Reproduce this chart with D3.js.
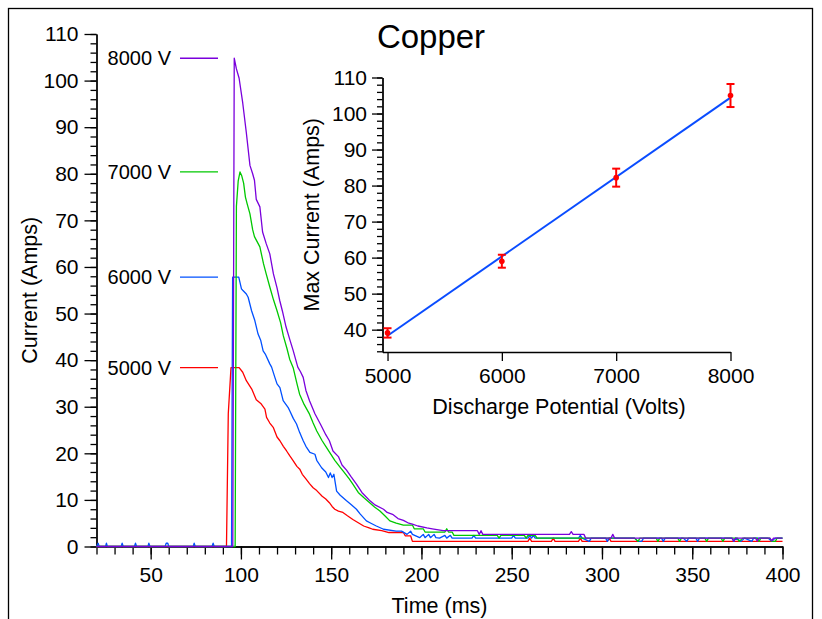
<!DOCTYPE html>
<html>
<head>
<meta charset="utf-8">
<script src="https://cdn.jsdelivr.net/npm/d3@7"></script>
<style>
  body { margin: 0; background: #fff; }
  svg text { font-family: "Liberation Sans", Arial, Helvetica, sans-serif; }
</style>
</head>
<body>
<div id="chart" style="width:822px;height:619px"></div>
<script>
// Discharge current traces for copper, plus inset of peak current vs voltage

const seriesNames = ['5000 V', '6000 V', '7000 V', '8000 V'];
const seriesColors = ['#ff0000', '#0050ff', '#00c800', '#7a00dc'];

// [time (ms), current (A)]
const trace5000 = [[20,0],[92,0],[93,28.5],[94.5,38.4],[99,38.4],[101,37.4],[103,35.6],[106,33.8],[108.5,31.5],[111,30.7],[113.3,29.5],[114.2,27.7],[116,26.5],[118,25.5],[120,23.5],[121.6,22.7],[123.5,21.5],[125.3,20.5],[127,19.5],[129,18.4],[131,17.2],[132.6,16.6],[134,15.5],[136,14.5],[138,13.5],[140,12.6],[142,12],[145,10.8],[147,10.2],[149,9.4],[150.5,8.6],[152,8],[154,7.6],[156.5,7.3],[159,6.6],[162,5.8],[165,5.1],[168,4.4],[171,4],[173,3.7],[178,3.4],[182,3],[190,3],[191,2.3],[194,2.3],[195,1.1],[259,1.1],[260,1.8],[261,1.1],[272,1.1],[273,1.8],[274,1.1],[287,1.1],[288,1.8],[289,1.1],[303,1.1],[304,1.8],[305,1.1],[400,1.1]];

const trace6000 = [[20,0],[20.9,0.7],[21.5,0],[25,0],[25.5,0.7],[26,0],[33.7,0],[34.2,0.7],[34.8,0],[41,0],[41.6,0.7],[42.2,0],[48.5,0],[49,0.7],[49.6,0],[58,0],[58.6,0.7],[59.5,0.7],[60,0],[73.6,0],[74.1,0.7],[74.7,0],[84,0],[84.6,0.7],[85.2,0],[94.8,0],[95.4,57.8],[98.8,57.8],[100.3,55.3],[101,55],[103,54.2],[104,53.5],[105.9,50.6],[107.7,48.5],[109.5,45.6],[111,44.2],[112.3,42],[113.5,41.3],[116,39.2],[117,38.5],[118.8,36.3],[120,34.9],[121.6,34.1],[123.4,31.3],[126.2,29.8],[127.1,29.1],[129,27.5],[130.8,26.3],[132.5,24.5],[134.5,22.7],[136,21.5],[138.2,20.2],[141,19.8],[142,18.5],[144.7,16.9],[147,16],[148.5,14.8],[149.5,15.8],[150.5,14.8],[151.5,15.5],[153,11.9],[155,11],[158.5,9.8],[161,9],[164,8],[166,7],[169.5,5.5],[172,5],[175,4.4],[179,3.7],[186,3.3],[189,3.3],[192,2.6],[194,3.3],[195,2.6],[199,1.9],[201,2.6],[202,1.9],[204,2.6],[205,1.9],[207,2.6],[208,1.9],[210,1.8],[213,2.4],[214,1.8],[216,2.4],[217,1.8],[228,1.8],[229,2.4],[230,1.8],[250,1.8],[251,2.4],[252,1.8],[259,1.8],[260,2.4],[261,1.8],[262,2.4],[263,1.8],[287,1.8],[288,2.4],[289,1.8],[293,1.1],[294,1.8],[302,1.8],[303,1.1],[304,1.8],[318,1.8],[320,1.1],[322,1.1],[323,1.8],[333,1.8],[334,1.1],[335,1.8],[345,1.8],[347,1.1],[348,1.8],[352,1.8],[353,1.1],[354,1.8],[372,1.8],[373,1.1],[374,1.8],[377,1.1],[379,1.8],[383,1.1],[384,1.8],[392,1.8],[394,1.1],[396,1.8],[400,1.8]];

const trace7000 = [[20,0],[96.8,0],[97.5,73],[98.5,78.5],[99.5,80.4],[100.5,79.5],[101.5,78],[102.5,75],[103.5,73.5],[105,71.4],[106.5,68],[107.5,66.5],[110.5,64.3],[112.5,60.7],[114,58.5],[116,55.7],[118,53],[120,50.6],[122,48],[123.5,45.2],[125.5,42.5],[127,40.2],[129,38.3],[131,35],[132.5,32.7],[135,30.5],[138,28.4],[140,26.5],[142,24.8],[145,22.7],[147,21.5],[149.5,20],[152,18.5],[155,17],[157,16],[160,14.5],[162,13.4],[165,11.6],[168,10.5],[171,9.5],[174,8.5],[177,7.6],[180,6.5],[182.5,5.5],[186,5],[190,4.6],[195,4.6],[196,3.8],[201,3.8],[202,3.1],[213,3.1],[214,3.8],[215,3.1],[217,3.1],[218,2.4],[242,2.4],[243,1.8],[244,2.4],[257,2.4],[258,1.8],[259,2.4],[263,2.4],[264,1.8],[318,1.8],[320,1.1],[321,1.8],[330,1.8],[331,1.1],[332,1.8],[342,1.8],[343,1.1],[344,1.8],[357,1.8],[358,1.1],[359,1.8],[366,1.8],[367,1.1],[368,1.8],[375,1.8],[376,1.1],[378,1.8],[386,1.8],[387,1.1],[388,1.8],[393,1.8],[394,1.1],[396,1.1],[397,1.8],[400,1.8]];

const trace8000 = [[20,0],[95.5,0],[96.3,104.8],[97.5,102.5],[99,100.5],[101,95.2],[103,88.8],[105,81.8],[106.5,80],[107.5,78.6],[108.5,74.5],[110.5,72.9],[112,67.5],[114,65],[116,62.8],[118,58.5],[120,55.5],[121.5,52.8],[123,50.5],[125,47.1],[127,44.5],[129,42],[131.5,38.5],[133,37.5],[134.5,36.3],[136,33.5],[138,31.3],[141,28.5],[144,26.3],[147,24],[149,22.7],[151,20.5],[154,19.3],[156,17.5],[158.5,16.4],[161,15],[164,13.4],[167,11.6],[169,10.8],[171.5,9.8],[174,9],[179,8],[181,7.3],[184,6.9],[187,6],[190,5.6],[193,5],[195,4.8],[198,4.4],[203,4],[206,3.8],[212,3.4],[231,3.4],[232,2.6],[233,3.4],[234,2.6],[282,2.6],[283,3.2],[284,2.6],[290,2.6],[291,1.8],[305,1.8],[306,2.6],[307,1.8],[372,1.8],[373,1.2],[374,1.8],[385,1.8],[386,1.2],[387,1.8],[393,1.8],[394,1.2],[395,1.8],[400,1.8]];

const traces = [trace5000, trace6000, trace7000, trace8000];

// inset: peak current vs discharge potential
const voltages = [5000, 6000, 7000, 8000];
const maxCurrent = [39.1, 59.0, 82.2, 105.0];
const maxCurrentErr = [1.3, 1.8, 2.5, 3.2];
const fitLine = [[5000, 38.3], [8000, 104.4]];

// tick values
const mainXTicks = [50, 100, 150, 200, 250, 300, 350, 400];
const mainYTicks = [0, 10, 20, 30, 40, 50, 60, 70, 80, 90, 100, 110];
const insetXTicks = [5000, 6000, 7000, 8000];
const insetYTicks = [40, 50, 60, 70, 80, 90, 100, 110];

renderChart(document.getElementById('chart'));

function styleAxis(g, fontSize){
  g.attr('font-size', fontSize).attr('font-family', '"Liberation Sans", Arial, sans-serif');
  g.select('.domain').attr('stroke', '#000').attr('stroke-width', 1.3);
  g.selectAll('.tick line').attr('stroke', '#000').attr('stroke-width', 1.3);
  g.selectAll('.tick text').attr('fill', '#000');
}

function renderChart(dom){
  const w = 822;
  const h = 619;
  const plot = d3.select(dom).append('svg')
    .attr('width', w)
    .attr('height', h);

  //Outer frame
  plot.append('rect')
    .attr('x', 8.5).attr('y', 8.5)
    .attr('width', 804).attr('height', 700)
    .style('fill', 'none')
    .style('stroke', '#000')
    .style('stroke-width', 1.3);

  //Main scales
  const x = d3.scaleLinear().domain([20, 400]).range([96.5, 782.5]);
  const y = d3.scaleLinear().domain([0, 110]).range([546.5, 34]);

  //Minor ticks first, then labelled major ticks
  plot.append('g')
    .attr('transform', `translate(0,${y(0)})`)
    .call(d3.axisBottom(x).tickValues(d3.range(20, 401, 10)).tickSize(8).tickSizeOuter(0).tickFormat(''))
    .call(g => styleAxis(g, 21));
  plot.append('g')
    .attr('transform', `translate(0,${y(0)})`)
    .call(d3.axisBottom(x).tickValues(mainXTicks).tickSize(13).tickSizeOuter(0).tickPadding(8))
    .call(g => styleAxis(g, 21));

  plot.append('g')
    .attr('transform', `translate(${x(20)},0)`)
    .call(d3.axisLeft(y).tickValues(d3.range(0, 111, 2)).tickSize(6).tickSizeOuter(0).tickFormat(''))
    .call(g => styleAxis(g, 21));
  plot.append('g')
    .attr('transform', `translate(${x(20)},0)`)
    .call(d3.axisLeft(y).tickValues(mainYTicks).tickSize(12).tickSizeOuter(0).tickPadding(6))
    .call(g => styleAxis(g, 21));

  //Axis titles
  plot.append('text')
    .attr('x', (x(20) + x(400)) / 2)
    .attr('y', 613)
    .attr('text-anchor', 'middle')
    .style('font-size', '21.5px')
    .text('Time (ms)');
  plot.append('text')
    .attr('transform', `translate(37,${(y(0) + y(110)) / 2}) rotate(-90)`)
    .attr('text-anchor', 'middle')
    .style('font-size', '21.5px')
    .text('Current (Amps)');

  //Title
  plot.append('text')
    .attr('x', 431)
    .attr('y', 48)
    .attr('text-anchor', 'middle')
    .style('font-size', '33px')
    .text('Copper');

  //Traces
  const line = d3.line()
    .x(d => x(d[0]))
    .y(d => y(d[1]));

  plot.selectAll('.trace')
    .data(traces)
    .enter()
    .append('path')
    .attr('class', 'trace')
    .attr('d', line)
    .style('fill', 'none')
    .style('stroke', (d, i) => seriesColors[i])
    .style('stroke-width', 1.3)
    .style('stroke-linejoin', 'round');

  //Legend: each label sits at the height of its peak
  const legend = plot.selectAll('.legend')
    .data(traces)
    .enter()
    .append('g')
    .attr('class', 'legend')
    .attr('transform', d => `translate(0,${y(d3.max(d, p => p[1]))})`);

  legend.append('line')
    .attr('x1', 180).attr('x2', 218)
    .attr('y1', 0).attr('y2', 0)
    .style('stroke', (d, i) => seriesColors[i])
    .style('stroke-width', 1.3);

  legend.append('text')
    .attr('x', 171)
    .attr('y', 7)
    .attr('text-anchor', 'end')
    .style('font-size', '20px')
    .text((d, i) => seriesNames[i]);

  renderInset(plot);
}

function renderInset(plot){
  const ix = d3.scaleLinear().domain([4956, 8000]).range([382.5, 730.5]);
  const iy = d3.scaleLinear().domain([33.8, 110]).range([352, 77.5]);

  plot.append('g')
    .attr('transform', `translate(0,${iy(33.8)})`)
    .call(d3.axisBottom(ix).tickValues(insetXTicks).tickSize(9).tickSizeOuter(0).tickPadding(7).tickFormat(d3.format('d')))
    .call(g => styleAxis(g, 21));

  plot.append('g')
    .attr('transform', `translate(${ix(4956)},0)`)
    .call(d3.axisLeft(iy).tickValues(d3.range(34, 111, 2)).tickSize(5.5).tickSizeOuter(0).tickFormat(''))
    .call(g => styleAxis(g, 21));
  plot.append('g')
    .attr('transform', `translate(${ix(4956)},0)`)
    .call(d3.axisLeft(iy).tickValues(insetYTicks).tickSize(10.5).tickSizeOuter(0).tickPadding(5))
    .call(g => styleAxis(g, 21));

  plot.append('text')
    .attr('x', (ix(5000) + ix(8000)) / 2)
    .attr('y', 414)
    .attr('text-anchor', 'middle')
    .style('font-size', '21.5px')
    .text('Discharge Potential (Volts)');
  plot.append('text')
    .attr('transform', `translate(319,${(iy(33.8) + iy(110)) / 2}) rotate(-90)`)
    .attr('text-anchor', 'middle')
    .style('font-size', '21.5px')
    .text('Max Current (Amps)');

  //Fit line
  plot.append('path')
    .datum(fitLine)
    .attr('d', d3.line().x(d => ix(d[0])).y(d => iy(d[1])))
    .style('fill', 'none')
    .style('stroke', '#0a4cff')
    .style('stroke-width', 2);

  //Error bars
  const pts = voltages.map((v, i) => ({v: v, c: maxCurrent[i], e: maxCurrentErr[i]}));
  const bars = plot.selectAll('.errbar')
    .data(pts)
    .enter()
    .append('g')
    .attr('class', 'errbar')
    .style('stroke', '#ff0000')
    .style('stroke-width', 2);

  bars.append('line')
    .attr('x1', d => ix(d.v)).attr('x2', d => ix(d.v))
    .attr('y1', d => iy(d.c - d.e)).attr('y2', d => iy(d.c + d.e));
  bars.append('line')
    .attr('x1', d => ix(d.v) - 4).attr('x2', d => ix(d.v) + 4)
    .attr('y1', d => iy(d.c + d.e)).attr('y2', d => iy(d.c + d.e));
  bars.append('line')
    .attr('x1', d => ix(d.v) - 4).attr('x2', d => ix(d.v) + 4)
    .attr('y1', d => iy(d.c - d.e)).attr('y2', d => iy(d.c - d.e));

  plot.selectAll('.pt')
    .data(pts)
    .enter()
    .append('circle')
    .attr('class', 'pt')
    .attr('cx', d => ix(d.v))
    .attr('cy', d => iy(d.c))
    .attr('r', 2.8)
    .style('fill', '#ff0000');
}
</script>
</body>
</html>
